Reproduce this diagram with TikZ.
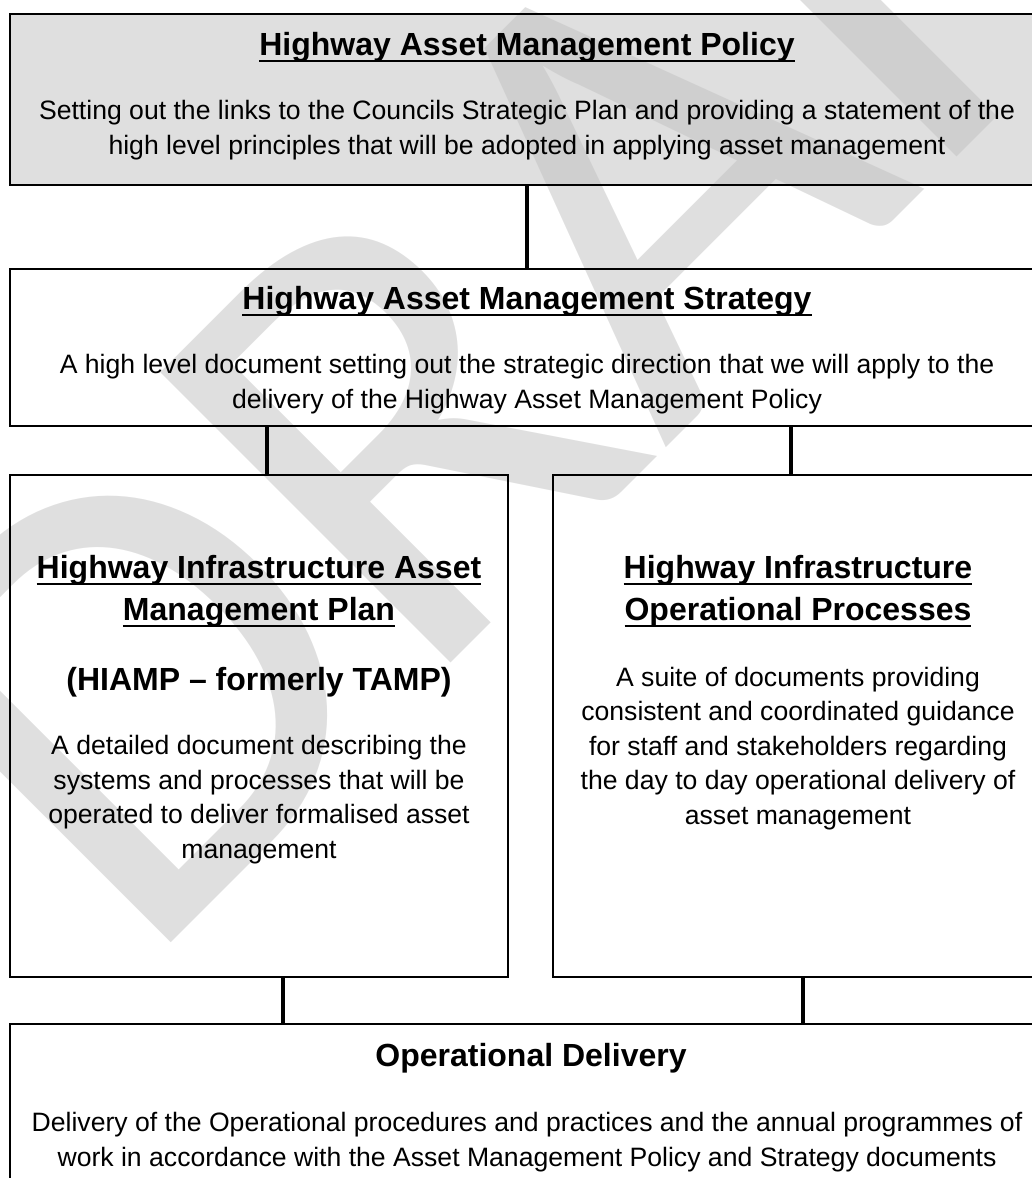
\documentclass[tikz,border=0pt]{standalone}
\usepackage{fontspec}
\setmainfont{Liberation Sans}
\newfontfamily\draftfont{Carlito}
\newcommand{\undertext}[1]{\setbox0=\hbox{#1}\copy0\llap{\rule[-3.5pt]{\wd0}{1pt}}}
\newcommand{\headfont}{\fontsize{16}{21}\selectfont\bfseries}
\newcommand{\bodyfont}{\fontsize{13.3}{17.25}\selectfont}
\definecolor{box_gray}{RGB}{223,223,223}
\definecolor{mark_gray}{RGB}{192,192,192}
\pgfdeclarelayer{boxfill}
\pgfdeclarelayer{watermark}
\pgfsetlayers{boxfill,watermark,main}

\begin{document}
\begin{tikzpicture}[x=0.5pt,y=-0.5pt]
    \tikzstyle{box}=[draw=black, line width=0.75pt, rectangle, inner sep=0pt, fill=none]
    \tikzstyle{head}=[font=\headfont, align=center, inner sep=0pt, anchor=base, text=black]
    \tikzstyle{body}=[font=\bodyfont, align=center, inner sep=0pt, anchor=base, text=black]
    \tikzstyle{link}=[draw=black, line width=2.3pt]
    \tikzstyle{draftmark}=[text=mark_gray, text opacity=0.5, font=\draftfont\fontsize{320}{320}\selectfont, rotate=45, anchor=base west, inner sep=0pt]
    \useasboundingbox (0,0) rectangle (1032,1178);

    \node[box, minimum width=517pt, minimum height=85.5pt] (policy)    at (527,99.5)  {};
    \node[box, minimum width=517pt, minimum height=78.5pt] (strategy)  at (527,347.5) {};
    \node[box, minimum width=249pt, minimum height=251pt]  (plan)      at (259,726)   {};
    \node[box, minimum width=244pt, minimum height=251pt]  (processes) at (797,726)   {};
    \node[box, minimum width=517pt, minimum height=88pt]   (delivery)  at (527,1112)  {};

    \begin{pgfonlayer}{boxfill}
    \fill[box_gray] (policy.south west) rectangle (policy.north east);
    \end{pgfonlayer}
    \begin{pgfonlayer}{watermark}
    \node[draftmark] (draft) at (140,974) {DRAFT};
    \end{pgfonlayer}

    % multi-line texts sit on the baseline of their last line
    \node[head] (t1) at (527,55)  {\undertext{Highway Asset Management Policy}};
    \node[body] (d1) at (527,154) {Setting out the links to the Councils Strategic Plan and providing a statement of the\\high level principles that will be adopted in applying asset management};
    \node[head] (t2) at (527,309) {\undertext{Highway Asset Management Strategy}};
    \node[body] (d2) at (527,408) {A high level document setting out the strategic direction that we will apply to the\\delivery of the Highway Asset Management Policy};
    \node[head] (t3) at (259,620) {\undertext{Highway Infrastructure Asset}\\\undertext{Management Plan}};
    \node[head] (c3) at (259,690) {(HIAMP – formerly TAMP)};
    \node[body] (d3) at (259,858) {A detailed document describing the\\systems and processes that will be\\operated to deliver formalised asset\\management};
    \node[head] (t4) at (798,620) {\undertext{Highway Infrastructure}\\\undertext{Operational Processes}};
    \node[body] (d4) at (798,824) {A suite of documents providing\\consistent and coordinated guidance\\for staff and stakeholders regarding\\the day to day operational delivery of\\asset management};
    \node[head] (t5) at (531,1066) {Operational Delivery};
    \node[body] (d5) at (527,1166) {Delivery of the Operational procedures and practices and the annual programmes of\\work in accordance with the Asset Management Policy and Strategy documents};

    \path[link]
     (policy) edge (strategy)
     ([xshift=4pt]plan.north |- strategy.south) edge ([xshift=4pt]plan.north)
     ([xshift=-3pt]processes.north |- strategy.south) edge ([xshift=-3pt]processes.north)
     ([xshift=12pt]plan.south) edge ([xshift=12pt]plan.south |- delivery.north)
     ([xshift=3pt]processes.south) edge ([xshift=3pt]processes.south |- delivery.north);
\end{tikzpicture}
\end{document}
